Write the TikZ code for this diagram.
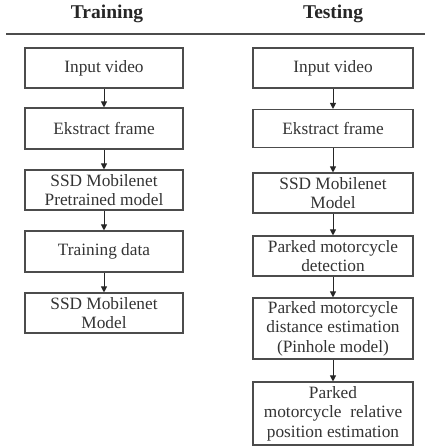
\documentclass[tikz,border=0pt]{standalone}
\usepackage{fontspec}
\setmainfont{Liberation Serif}
\usetikzlibrary{arrows.meta}
\definecolor{linegray}{gray}{0.3}
\definecolor{txtgray}{gray}{0.2}
\tikzset{
  flowbox/.style={draw=linegray, line width=1.1pt, align=center, inner sep=1pt,
    font=\fontsize{17.3}{19.5}\selectfont, text=txtgray},
  lbox/.style={flowbox, minimum width=158pt},
  rbox/.style={flowbox, minimum width=160pt},
  flowarrow/.style={draw=black!85, line width=1pt, -{Triangle[length=6pt,width=6pt]}},
  coltitle/.style={font=\fontsize{19.5}{21}\selectfont\bfseries, text=black!85}
}
\begin{document}
\begin{tikzpicture}[x=1pt,y=1pt]
\useasboundingbox (0,0) rectangle (425,-447);
\node[coltitle] (tt) at (107,-14) {Training};
\node[coltitle] (ts) at (333,-14) {Testing};
\coordinate (hl) at (6,-34);
\coordinate (hr) at (425,-34);
\draw[linegray, line width=1.3pt] (hl) -- (hr);

% Training column
\node[lbox, minimum height=40pt] (L1) at (104,-68) {Input video};
\node[lbox, minimum height=41pt] (L2) at (104,-128.5) {Ekstract frame};
\node[lbox, minimum height=40pt] (L3) at (104,-190) {SSD Mobilenet\\Pretrained model};
\node[lbox, minimum height=41pt] (L4) at (104,-251.5) {Training data};
\node[lbox, minimum height=40pt] (L5) at (104,-313) {SSD Mobilenet\\Model};
\draw[flowarrow] (L1.south) -- (L2.north);
\draw[flowarrow] (L2.south) -- (L3.north);
\draw[flowarrow] (L3.south) -- (L4.north);
\draw[flowarrow] (L4.south) -- (L5.north);

% Testing column
\node[rbox, minimum height=40pt] (R1) at (333,-68) {Input video};
\node[rbox, minimum height=38pt] (R2) at (333,-128.5) {Ekstract frame};
\node[rbox, minimum height=40pt] (R3) at (333,-193) {SSD Mobilenet\\Model};
\node[rbox, minimum height=40pt] (R4) at (333,-256) {Parked motorcycle\\detection};
\node[rbox, minimum height=61pt] (R5) at (333,-328.5) {Parked motorcycle\\distance estimation\\(Pinhole model)};
\node[rbox, minimum height=63pt] (R6) at (333,-413.5) {Parked\\motorcycle\ \ relative\\position estimation};
\draw[flowarrow] (R1.south) -- (R2.north);
\draw[flowarrow] (R2.south) -- (R3.north);
\draw[flowarrow] (R3.south) -- (R4.north);
\draw[flowarrow] (R4.south) -- (R5.north);
\draw[flowarrow] (R5.south) -- (R6.north);
\end{tikzpicture}
\end{document}
